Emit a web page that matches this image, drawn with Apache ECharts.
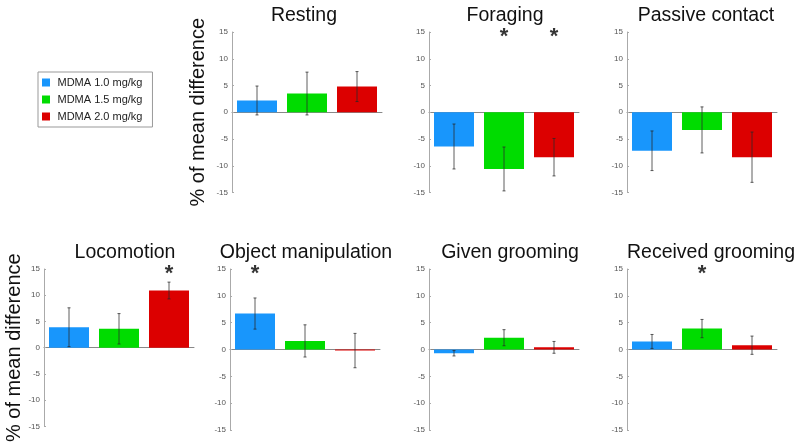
<!DOCTYPE html>
<html>
<head>
<meta charset="utf-8">
<script src="https://cdn.jsdelivr.net/npm/echarts@6/dist/echarts.min.js"></script>
<style>
  html, body { margin: 0; padding: 0; background: #fff; }
  #chart { width: 800px; height: 444px; }
</style>
</head>
<body>
<div id="chart"></div>
<script>
// panels, in reading order
const panels = ["Resting", "Foraging", "Passive contact", "Locomotion", "Object manipulation", "Given grooming", "Received grooming"];
const doses = ["MDMA 1.0 mg/kg", "MDMA 1.5 mg/kg", "MDMA 2.0 mg/kg"];
const doseColors = ["#1896fc", "#00dc00", "#dc0000"];

// % of mean difference, one row per panel, one column per dose
const means = [
  [2.2, 3.5, 4.8],
  [-6.4, -10.6, -8.4],
  [-7.2, -3.3, -8.4],
  [3.9, 3.6, 10.9],
  [6.7, 1.6, -0.2],
  [-0.7, 2.2, 0.4],
  [1.5, 3.9, 0.8]
];
const errors = [
  [2.7, 4.0, 2.8],
  [4.2, 4.1, 3.5],
  [3.7, 4.3, 4.7],
  [3.7, 2.9, 1.6],
  [2.9, 3.0, 3.2],
  [0.5, 1.5, 1.1],
  [1.3, 1.7, 1.7]
];
// significant differences (asterisk)
const stars = [
  [0, 0, 0],
  [0, 1, 1],
  [0, 0, 0],
  [0, 0, 1],
  [1, 0, 0],
  [0, 0, 0],
  [0, 1, 0]
];
const yTicks = [-15, -10, -5, 0, 5, 10, 15];
const axisName = "% of mean difference";

// panel placement (titleX = centre of the title)
const layout = [
  { left: 232, top: 32, height: 160.5, titleX: 304, nameGap: 24 },
  { left: 429, top: 32, height: 160.5, titleX: 505 },
  { left: 627, top: 32, height: 160.5, titleX: 706 },
  { left: 44, top: 269, height: 161, titleX: 125, nameGap: 16 },
  { left: 230, top: 269, height: 161, titleX: 306 },
  { left: 429, top: 269, height: 161, titleX: 510 },
  { left: 627, top: 269, height: 161, titleX: 711 }
];

let chart = echarts.init(document.getElementById("chart"));
const font = "Liberation Sans, Arial, sans-serif";

let grid = [], xAxis = [], yAxis = [], title = [], series = [];

panels.forEach((name, p) => {
  const L = layout[p];
  grid.push({ left: L.left, top: L.top, width: 150, height: L.height });
  title.push({
    text: name,
    left: L.titleX,
    top: L.top - 26,
    padding: 0,
    textAlign: "center",
    textStyle: { fontFamily: font, fontSize: 19.5, fontWeight: "normal", color: "#111" }
  });
  xAxis.push({
    gridIndex: p,
    type: "category",
    data: doses,
    axisLine: { onZero: true, lineStyle: { color: "#888", width: 1 } },
    axisTick: { show: false },
    axisLabel: { show: false },
    splitLine: { show: false }
  });
  yAxis.push({
    gridIndex: p,
    type: "value",
    min: yTicks[0],
    max: yTicks[yTicks.length - 1],
    interval: 5,
    name: L.nameGap ? axisName : "",
    nameLocation: "middle",
    nameGap: L.nameGap || 0,
    nameTextStyle: { fontFamily: font, fontSize: 20, color: "#111" },
    axisLine: { show: true, lineStyle: { color: "#aaa", width: 1 } },
    axisTick: { show: true, inside: true, length: 2, lineStyle: { color: "#aaa" } },
    axisLabel: { fontFamily: font, fontSize: 8, color: "#555", margin: 4 },
    splitLine: { show: false }
  });

  // one bar series per dose so the legend picks them up
  doses.forEach((dose, d) => {
    series.push({
      name: dose,
      type: "bar",
      xAxisIndex: p,
      yAxisIndex: p,
      barWidth: "80%",
      barGap: "-100%",
      itemStyle: { color: doseColors[d] },
      data: doses.map((_, i) => (i === d ? means[p][d] : "-"))
    });
  });

  // error bars
  series.push({
    type: "custom",
    xAxisIndex: p,
    yAxisIndex: p,
    z: 5,
    silent: true,
    data: means[p].map((m, i) => [i, m - errors[p][i], m + errors[p][i]]),
    renderItem: (params, api) => {
      const lo = api.coord([api.value(0), api.value(1)]);
      const hi = api.coord([api.value(0), api.value(2)]);
      const s = { stroke: "rgba(40,40,40,0.75)", lineWidth: 1 };
      return {
        type: "group",
        children: [
          { type: "line", shape: { x1: lo[0], y1: lo[1], x2: hi[0], y2: hi[1] }, style: s },
          { type: "line", shape: { x1: lo[0] - 1.5, y1: lo[1], x2: lo[0] + 1.5, y2: lo[1] }, style: s },
          { type: "line", shape: { x1: hi[0] - 1.5, y1: hi[1], x2: hi[0] + 1.5, y2: hi[1] }, style: s }
        ]
      };
    }
  });

  // asterisks
  let starData = [];
  stars[p].forEach((s, i) => { if (s) starData.push([i, 15]); });
  series.push({
    type: "scatter",
    xAxisIndex: p,
    yAxisIndex: p,
    symbol: "circle",
    symbolSize: 2,
    itemStyle: { color: "rgba(0,0,0,0)" },
    silent: true,
    z: 6,
    data: starData,
    label: {
      show: true,
      formatter: "*",
      position: "inside",
      offset: [0, 5],
      fontFamily: font,
      fontSize: 22,
      fontWeight: "bold",
      color: "#000"
    }
  });
});

chart.setOption({
  animation: false,
  backgroundColor: "#fff",
  title: title,
  legend: {
    data: doses,
    orient: "vertical",
    left: 38,
    top: 72,
    width: 115,
    padding: [5, 10, 5, 4],
    itemGap: 6,
    itemWidth: 13,
    itemHeight: 8,
    icon: "path://M0,0h10v10h-10z",
    borderColor: "#999",
    borderWidth: 1,
    textStyle: { fontFamily: font, fontSize: 11, color: "#222" }
  },
  grid: grid,
  xAxis: xAxis,
  yAxis: yAxis,
  series: series
});
</script>
</body>
</html>
